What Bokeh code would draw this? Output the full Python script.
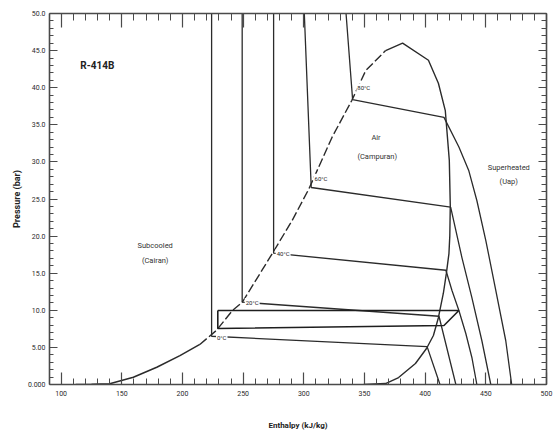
from bokeh.plotting import figure
from bokeh.models import LinearAxis, SingleIntervalTicker, Range1d, CustomLabelingPolicy
from bokeh.core.properties import value
from bokeh.embed import file_html
from bokeh.resources import INLINE

# ---------------- data ----------------
x_tick_labels = ["100", "150", "200", "250", "300", "350", "400", "450", "500"]
y_tick_values = [0, 5, 10, 15, 20, 25, 30, 35, 40, 45, 50]
y_tick_labels = ["0.000", "5.00", "10.0", "15.0", "20.0", "25.0", "30.0", "35.0", "40.0", "45.0", "50.0"]

# saturated liquid line, lower solid part (h kJ/kg, p bar)
liq_low_h = [112, 125, 140, 159.5, 178.8, 197.9, 214.3]
liq_low_p = [0.0, 0.03, 0.1, 0.98, 2.33, 3.9, 5.4]
# saturated liquid line, upper dashed part
liq_up_h = [214.3, 228, 241.2, 249.4, 274, 290.4, 304.3, 323.2, 339.6, 351, 367.4]
liq_up_p = [5.4, 7.3, 9.97, 11.1, 17.65, 22.1, 26.4, 33.3, 38.3, 42.3, 45.0]
# dome top and saturated vapour line
vap_h = [367.4, 381.4, 402.7, 410.9, 416.6, 419.9, 420.7, 420.3, 419.6, 417.5, 415.0, 410.9, 406.8, 401.1, 392.0, 378.1, 367.4, 349.3]
vap_p = [45.0, 46.0, 43.7, 40.6, 36.9, 30.2, 24.1, 20.0, 17.65, 15.0, 12.3, 9.0, 6.6, 4.85, 2.83, 0.94, 0.13, 0.0]

# isotherms: subcooled (near vertical) part, two-phase part, superheated part
iso_names = ["0°C", "20°C", "40°C", "60°C", "80°C"]
iso_h = [
    [224.0, 224.0, 401.6, 412.2],
    [249.2, 249.2, 411.4, 425.3],
    [275.1, 275.1, 417.1, 422.1, 427.8, 433.5, 438.5, 442.6],
    [300.4, 306.1, 421.0, 430.3, 438.5, 446.7, 454.1],
    [334.8, 340.2, 415.5, 427.8, 436.0, 442.6, 450.0, 458.2, 466.4, 471.3],
]
iso_p = [
    [50, 6.5, 5.1, 0],
    [50, 11.1, 9.2, 0],
    [50, 17.7, 15.4, 12.67, 9.97, 6.87, 3.64, 0],
    [50, 26.55, 23.9, 17.1, 11.7, 5.93, 0],
    [50, 38.4, 36.0, 32.0, 28.8, 24.8, 19.4, 12.7, 5.93, 0],
]
iso_label_h = [227.6, 251.3, 276.8, 308.0, 343.3]
iso_label_p = [6.33, 11.05, 17.65, 27.8, 40.0]

# refrigeration cycle
cycle_h = [229.1, 427.8, 415.5, 229.1, 229.1]
cycle_p = [9.97, 9.97, 7.95, 7.55, 9.97]

# region texts
region_text = ["Subcooled", "(Cairan)", "Air", "(Campuran)", "Superheated", "(Uap)"]
region_h = [177.5, 177.5, 359.5, 360.5, 468.9, 468.9]
region_p = [18.7, 16.7, 33.3, 30.7, 29.2, 27.3]

title_text = ["R-414B"]
title_h = [115.8]
title_p = [43.0]

# ---------------- figure ----------------
FONT = "Roboto"
LINE = "#2b2b2b"
AX = "#4a4a4a"

p = figure(width=554, height=437, output_backend="svg", toolbar_location=None,
           x_range=Range1d(90.4, 500), y_range=Range1d(0, 50),
           min_border_left=49, min_border_right=8, min_border_top=13, min_border_bottom=53,
           x_axis_label="Enthalpy (kJ/kg)", y_axis_label="Pressure (bar)")
p.grid.visible = False
p.outline_line_color = None
p.background_fill_color = "white"

xt = SingleIntervalTicker(interval=50, num_minor_ticks=5)
yt = SingleIntervalTicker(interval=5, num_minor_ticks=5)

def style_axis(ax, major, minor):
    ax.axis_line_color = AX
    ax.axis_line_width = 1.6
    ax.major_tick_line_color = AX
    ax.minor_tick_line_color = AX
    ax.major_tick_line_width = 1.2
    ax.minor_tick_line_width = 1.0
    ax.major_tick_in = major
    ax.major_tick_out = 0
    ax.minor_tick_in = minor
    ax.minor_tick_out = 0

xa = p.xaxis[0]
xa.ticker = xt
style_axis(xa, 12, 6)
xa.major_label_text_font = FONT
xa.major_label_text_font_size = "7px"
xa.major_label_text_color = "#2a2a2a"
xa.major_label_standoff = 6
xa.major_label_overrides = {100 + 50 * i: s for i, s in enumerate(x_tick_labels)}
xa.axis_label_text_font = FONT
xa.axis_label_text_font_size = "8px"
xa.axis_label_text_font_style = "bold"
xa.axis_label_text_color = "#222222"
xa.axis_label_standoff = 22

ya = p.yaxis[0]
ya.ticker = yt
style_axis(ya, 8, 4)
ya.major_label_text_font = FONT
ya.major_label_text_font_size = "7px"
ya.major_label_text_color = "#2a2a2a"
ya.major_label_standoff = 4
ya.major_label_overrides = dict(zip(y_tick_values, y_tick_labels))
ya.axis_label_text_font = FONT
ya.axis_label_text_font_size = "9px"
ya.axis_label_text_font_style = "bold"
ya.axis_label_text_color = "#222222"
ya.axis_label_standoff = 3

no_labels = CustomLabelingPolicy(code="""
const ids = [...indices]
for (const i of ids) indices.unset(i)
return indices
""")

top = LinearAxis(ticker=xt, major_label_policy=no_labels, major_label_standoff=0,
                 major_label_text_font_size="0px")
style_axis(top, 14, 7)
p.add_layout(top, "above")
right = LinearAxis(ticker=yt, major_label_policy=no_labels, major_label_standoff=0,
                   major_label_text_font_size="0px")
style_axis(right, 8, 5)
p.add_layout(right, "right")

# saturation dome
p.line(liq_low_h, liq_low_p, line_color=LINE, line_width=1.5)
p.line(liq_up_h, liq_up_p, line_color=LINE, line_width=1.4, line_dash="9 3")
p.line(vap_h, vap_p, line_color=LINE, line_width=1.4)

# isotherms
for hh, pp in zip(iso_h, iso_p):
    p.line(hh, pp, line_color=LINE, line_width=1.3)

# cycle
p.line(cycle_h, cycle_p, line_color="#1e1e1e", line_width=1.6)

# isotherm labels
p.text(iso_label_h, iso_label_p, text=iso_names, text_font=value(FONT), text_font_size="6px",
       text_baseline="middle", text_align="left", text_color="#222222",
       background_fill_color="white", padding=1)

# region labels
p.text(region_h, region_p, text=region_text, text_font=value(FONT), text_font_size="7.5px",
       text_baseline="middle", text_align="center", text_color="#333333")
p.text(title_h, title_p, text=title_text, text_font=value(FONT), text_font_size="10px",
       text_font_style="bold", text_baseline="middle", text_align="left", text_color="#222222")

open("out.html", "w").write(file_html(p, INLINE))
